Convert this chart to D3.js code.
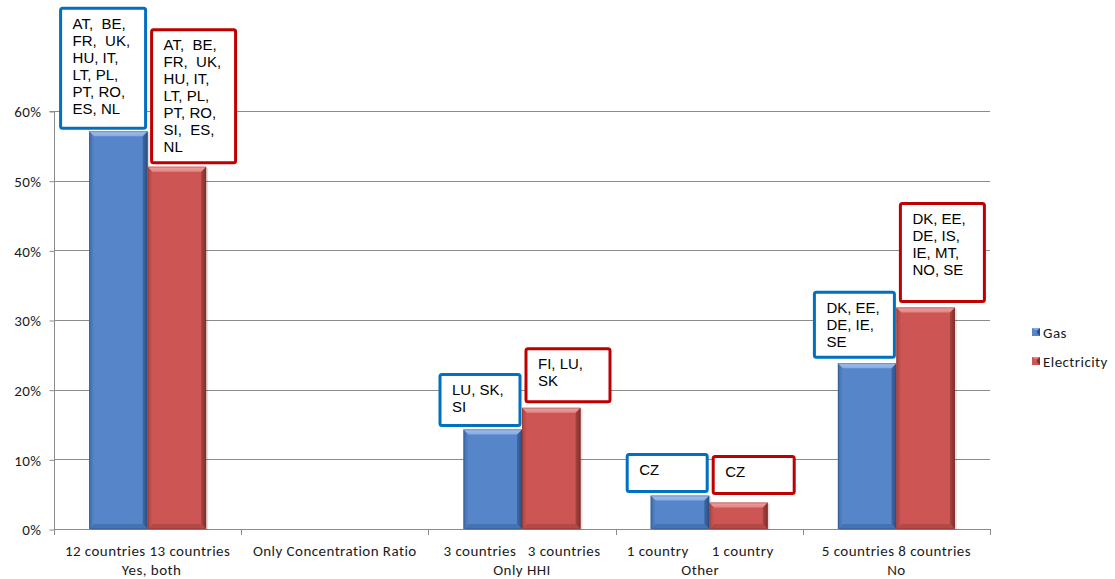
<!DOCTYPE html>
<html>
<head>
<meta charset="utf-8">
<script src="https://cdn.jsdelivr.net/npm/d3@7"></script>
<style>
  html, body { margin: 0; padding: 0; background: #ffffff; }
  svg { display: block; }
  .axis-label { font-family: Carlito, Lato, "Liberation Sans", sans-serif; font-size: 15px; letter-spacing: 0.45px; fill: #1a1a1a; }
  .note { font-family: "Liberation Sans", Arial, sans-serif; font-size: 15px; fill: #000; }
</style>
</head>
<body>
<svg id="chart" width="1115" height="579"></svg>
<script>
// Share of countries by market-concentration indicator used
const categories = ["Yes, both", "Only Concentration Ratio", "Only HHI", "Other", "No"];
const countLabels = ["12 countries 13 countries", "Only Concentration Ratio", "3 countries   3 countries", "1 country      1 country", "5 countries 8 countries"];
const groupLabels = ["Yes, both", "", "Only HHI", "Other", "No"];
const seriesNames = ["Gas", "Electricity"];
const gasValues = [57.1, 0, 14.3, 4.8, 23.8];
const electricityValues = [52.0, 0, 17.4, 3.8, 31.8];
const yTicks = [0, 10, 20, 30, 40, 50, 60];
const gasCountries = [
  ["AT,  BE,", "FR,  UK,", "HU, IT,", "LT, PL,", "PT, RO,", "ES, NL"],
  null,
  ["LU, SK,", "SI"],
  ["CZ"],
  ["DK, EE,", "DE, IE,", "SE"]
];
const electricityCountries = [
  ["AT,  BE,", "FR,  UK,", "HU, IT,", "LT, PL,", "PT, RO,", "SI,  ES,", "NL"],
  null,
  ["FI, LU,", "SK"],
  ["CZ"],
  ["DK, EE,", "DE, IS,", "IE, MT,", "NO, SE"]
];

const svg = d3.select("#chart");
const plot = { left: 54, right: 990, top: 111, bottom: 529 };

const x0 = d3.scaleBand().domain(categories).range([plot.left, plot.right]).paddingInner(0).paddingOuter(0);
const x1 = d3.scaleBand().domain(seriesNames).range([0, x0.bandwidth()]).paddingInner(0).paddingOuter(0.6);
const y = d3.scaleLinear().domain([0, 60]).range([plot.bottom, plot.top]);

const palette = {
  Gas:         { body: "#5686c9", light: "#86abe3", lighter: "#a2c0ec", dark: "#2d4e80", edge: "#3f6aa8", box: "#0070c0" },
  Electricity: { body: "#cd5654", light: "#e38482", lighter: "#eda3a1", dark: "#7e2f2d", edge: "#a84442", box: "#c00000" }
};

const defs = svg.append("defs");
seriesNames.forEach(s => {
  const c = palette[s];
  const gr = defs.append("linearGradient").attr("id", "right-" + s).attr("x1", 0).attr("x2", 1).attr("y1", 0).attr("y2", 0);
  gr.append("stop").attr("offset", 0).attr("stop-color", c.edge);
  gr.append("stop").attr("offset", 1).attr("stop-color", c.dark);
  const gt = defs.append("linearGradient").attr("id", "top-" + s).attr("x1", 0).attr("x2", 0).attr("y1", 0).attr("y2", 1);
  gt.append("stop").attr("offset", 0).attr("stop-color", c.lighter);
  gt.append("stop").attr("offset", 1).attr("stop-color", c.light);
  const gl = defs.append("linearGradient").attr("id", "left-" + s).attr("x1", 0).attr("x2", 1).attr("y1", 0).attr("y2", 0);
  gl.append("stop").attr("offset", 0).attr("stop-color", c.edge);
  gl.append("stop").attr("offset", 1).attr("stop-color", c.body);
});

// Gridlines
const gridColor = "#8c8c8c";
svg.append("g").selectAll("line").data(yTicks.filter(t => t > 0)).join("line")
  .attr("x1", plot.left).attr("x2", plot.right)
  .attr("y1", d => Math.round(y(d)) + 0.5).attr("y2", d => Math.round(y(d)) + 0.5)
  .attr("stroke", gridColor).attr("stroke-width", 1);

// Y axis
const yAxis = d3.axisLeft(y).tickValues(yTicks).tickFormat(d => d + "%").tickSize(5).tickPadding(8);
const yg = svg.append("g").attr("transform", `translate(${plot.left + 0.5},0.5)`).call(yAxis);
yg.select(".domain").attr("stroke", gridColor).attr("d", `M-5,${Math.round(y(60))}H0V${Math.round(y(0))}`);
yg.selectAll(".tick line").attr("stroke", gridColor);
yg.selectAll(".tick text").attr("class", "axis-label").attr("dy", "0.35em");

// X axis baseline with boundary ticks
const xg = svg.append("g");
xg.append("line").attr("x1", plot.left).attr("x2", plot.right)
  .attr("y1", Math.round(y(0)) + 0.5).attr("y2", Math.round(y(0)) + 0.5).attr("stroke", gridColor);
const bounds = categories.map(c => x0(c)).concat([plot.right]);
xg.selectAll("line.b").data(bounds).join("line").attr("class", "b")
  .attr("x1", d => Math.round(d) + 0.5).attr("x2", d => Math.round(d) + 0.5)
  .attr("y1", Math.round(y(0))).attr("y2", Math.round(y(0)) + 6).attr("stroke", gridColor);

// Category labels (two levels)
const lab = svg.append("g");
lab.selectAll("text.l1").data(categories).join("text").attr("class", "axis-label l1")
  .attr("x", (d, i) => x0(d) + x0.bandwidth() / 2 + (i === 3 ? -9 : 0))
  .attr("y", 556).attr("text-anchor", "middle").style("white-space", "pre")
  .text((d, i) => countLabels[i]);
lab.selectAll("text.l2").data(categories).join("text").attr("class", "axis-label l2")
  .attr("x", (d, i) => x0(d) + x0.bandwidth() / 2 + (i === 3 ? -9 : (i === 0 ? 4 : 0)))
  .attr("y", 575).attr("text-anchor", "middle")
  .text((d, i) => groupLabels[i]);

// Bevelled bars
const rows = [];
categories.forEach((c, i) => {
  rows.push({ cat: c, series: "Gas", value: gasValues[i], i });
  rows.push({ cat: c, series: "Electricity", value: electricityValues[i], i });
});

function drawBar(g, xl, w, yt, yb, s) {
  const c = palette[s];
  const b = Math.min(5, (yb - yt) / 2);
  g.append("rect").attr("x", xl + 2).attr("y", yt + 1).attr("width", w).attr("height", yb - yt)
    .attr("fill", "#000").attr("opacity", 0.12);
  g.append("rect").attr("x", xl).attr("y", yt).attr("width", w).attr("height", yb - yt).attr("fill", c.body);
  g.append("polygon").attr("fill", `url(#left-${s})`)
    .attr("points", [[xl, yt], [xl + b, yt + b], [xl + b, yb - b], [xl, yb]].join(" "));
  g.append("polygon").attr("fill", `url(#right-${s})`)
    .attr("points", [[xl + w, yt], [xl + w, yb], [xl + w - b, yb - b], [xl + w - b, yt + b]].join(" "));
  g.append("polygon").attr("fill", c.edge).attr("opacity", 0.7)
    .attr("points", [[xl, yb], [xl + b, yb - b], [xl + w - b, yb - b], [xl + w, yb]].join(" "));
  g.append("polygon").attr("fill", `url(#top-${s})`)
    .attr("points", [[xl, yt], [xl + w, yt], [xl + w - b, yt + b], [xl + b, yt + b]].join(" "));
  g.append("rect").attr("x", xl + 0.5).attr("y", yt + 0.5).attr("width", w - 1).attr("height", yb - yt - 1)
    .attr("fill", "none").attr("stroke", c.dark).attr("stroke-opacity", 0.35);
}

const barsG = svg.append("g");
rows.filter(r => r.value > 0).forEach(r => {
  const xl = x0(r.cat) + x1(r.series);
  drawBar(barsG.append("g"), xl, x1.bandwidth(), y(r.value), y(0), r.series);
});

// Country annotation boxes above each bar
const boxLayout = {
  Gas:         [{ w: 85, h: 120, gap: 3 }, null, { w: 80, h: 51, gap: 4 }, { w: 80, h: 37, gap: 4 }, { w: 80, h: 65, gap: 6 }],
  Electricity: [{ w: 84, h: 133, gap: 4 }, null, { w: 84, h: 53, gap: 6 }, { w: 81, h: 37, gap: 9 }, { w: 84, h: 98, gap: 6 }]
};
const notes = svg.append("g");
seriesNames.forEach(s => {
  const lists = s === "Gas" ? gasCountries : electricityCountries;
  const vals = s === "Gas" ? gasValues : electricityValues;
  lists.forEach((lines, i) => {
    if (!lines) return;
    const L = boxLayout[s][i];
    const barL = x0(categories[i]) + x1(s);
    const left = s === "Gas" ? barL + x1.bandwidth() - 2 - L.w : barL + 4;
    const top = y(vals[i]) - L.gap - L.h;
    const g = notes.append("g");
    g.append("rect").attr("x", left).attr("y", top).attr("width", L.w).attr("height", L.h)
      .attr("rx", 2).attr("fill", "#fff").attr("stroke", palette[s].box).attr("stroke-width", 3);
    const t = g.append("text").attr("class", "note").style("white-space", "pre");
    lines.forEach((ln, k) => {
      t.append("tspan").attr("x", left + 12).attr("y", top + 20.5 + k * 17).text(ln);
    });
  });
});

// Legend
const leg = svg.append("g");
seriesNames.forEach((s, k) => {
  const yy = 328 + k * 29;
  const c = palette[s];
  leg.append("rect").attr("x", 1032).attr("y", yy).attr("width", 8).attr("height", 8).attr("fill", c.body);
  leg.append("polygon").attr("fill", c.dark)
    .attr("points", [[1040, yy], [1040, yy + 8], [1037, yy + 5], [1037, yy + 3]].join(" "));
  leg.append("polygon").attr("fill", c.light)
    .attr("points", [[1032, yy], [1040, yy], [1037, yy + 2], [1035, yy + 2]].join(" "));
  leg.append("text").attr("class", "axis-label").attr("x", 1043).attr("y", yy + 9.5).text(s);
});
</script>
</body>
</html>
